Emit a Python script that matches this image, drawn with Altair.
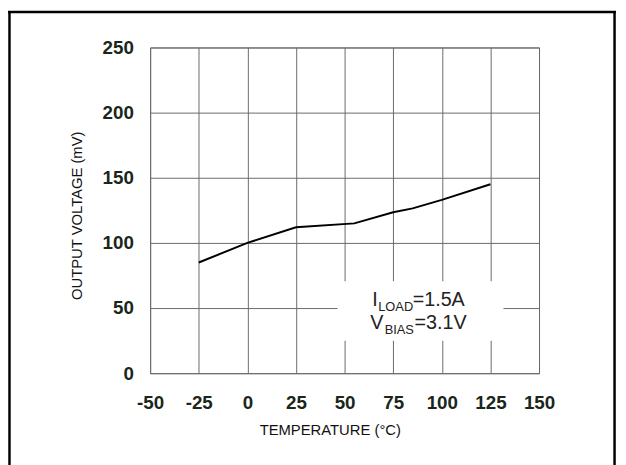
import altair as alt
import pandas as pd

# ---- data ----
temperature = [-25, 0, 25, 55, 75, 85, 100, 125]
output_mv = [85, 100, 112, 115, 123.5, 126.5, 133, 145]
x_ticks = [-50, -25, 0, 25, 50, 75, 100, 125, 150]
y_ticks = [0, 50, 100, 150, 200, 250]

df = pd.DataFrame({"t": temperature, "v": output_mv})

W, H = 394, 330
FONT = "Liberation Sans"
LABEL_COLOR = "#1a261a"

xscale = alt.Scale(domain=[-50, 150], nice=False, zero=False)
yscale = alt.Scale(domain=[0, 250], nice=False)

xaxis = alt.Axis(
    values=x_ticks, title="TEMPERATURE (°C)", grid=True, gridColor="#6a6a6a",
    gridWidth=1, domain=False, ticks=False, tickSize=0,
    labelFont=FONT, labelFontSize=19, labelFontWeight="bold", labelColor=LABEL_COLOR,
    labelBaseline="middle", labelPadding=30, labelAngle=0,
    labelFlush=False, labelOverlap=False, labelExpr="'' + datum.value",
    titleFont=FONT, titleFontSize=15, titleFontWeight="normal", titleColor="#111111",
    titleX=182, titleY=57, titleBaseline="middle", titleAlign="center",
)
yaxis = alt.Axis(
    values=y_ticks, title="OUTPUT VOLTAGE (mV)", grid=True, gridColor="#6a6a6a",
    gridWidth=1, domain=False, ticks=False, tickSize=0,
    labelFont=FONT, labelFontSize=19, labelFontWeight="bold", labelColor=LABEL_COLOR,
    labelPadding=17, labelFlush=False, labelOverlap=False,
    titleFont=FONT, titleFontSize=15, titleFontWeight="normal", titleColor="#111111",
    titleAngle=270, titleX=-75, titleY=170, titleBaseline="middle", titleAlign="center",
)

line = alt.Chart(df).mark_line(color="black", strokeWidth=2).encode(
    x=alt.X("t:Q", scale=xscale, axis=xaxis),
    y=alt.Y("v:Q", scale=yscale, axis=yaxis),
)

# white box behind the annotation (covers gridlines)
box_df = pd.DataFrame({"x": [46.4], "x2": [131.7], "y": [25], "y2": [70.5]})
box = alt.Chart(box_df).mark_rect(color="white").encode(
    x=alt.X("x:Q", scale=xscale), x2="x2", y=alt.Y("y:Q", scale=yscale), y2="y2"
)

# annotation text: I_LOAD=1.5A / V_BIAS=3.1V
ann_parts = [
    ("I", 64.2, 51.7, 20), ("LOAD", 67.3, 47.5, 13), ("=1.5A", 85.0, 51.7, 20),
    ("V", 63.2, 33.6, 20), ("BIAS", 70.6, 29.8, 13), ("=3.1V", 86.0, 33.6, 20),
]
ann_layers = []
for txt, ax, ay, fs in ann_parts:
    d = pd.DataFrame({"x": [ax], "y": [ay], "label": [txt]})
    ann_layers.append(
        alt.Chart(d).mark_text(
            align="left", baseline="alphabetic", font=FONT, fontSize=fs, color="#222222"
        ).encode(
            x=alt.X("x:Q", scale=xscale), y=alt.Y("y:Q", scale=yscale), text="label:N"
        )
    )

# outer frame of the figure
frame_df = pd.DataFrame({"d": [0]})
frame_top = alt.Chart(frame_df).mark_rule(color="black", strokeWidth=2.5).encode(
    x=alt.value(-145), x2=alt.value(472), y=alt.value(-36)
)
frame_left = alt.Chart(frame_df).mark_rule(color="black", strokeWidth=2.5).encode(
    x=alt.value(-142.5), y=alt.value(-37), y2=alt.value(430)
)
frame_right = alt.Chart(frame_df).mark_rule(color="black", strokeWidth=2.5).encode(
    x=alt.value(470.5), y=alt.value(-37), y2=alt.value(430)
)

chart = alt.layer(
    box, line, *ann_layers, frame_top, frame_left, frame_right
).properties(
    width=W, height=H,
    autosize=alt.AutoSizeParams(type="none"),
    padding={"left": 144, "top": 37, "right": 80, "bottom": 90},
    background="white",
).configure_view(
    stroke="#6a6a6a", strokeWidth=1
)

chart.save("out.html", embed_options={"renderer": "svg", "actions": False})
